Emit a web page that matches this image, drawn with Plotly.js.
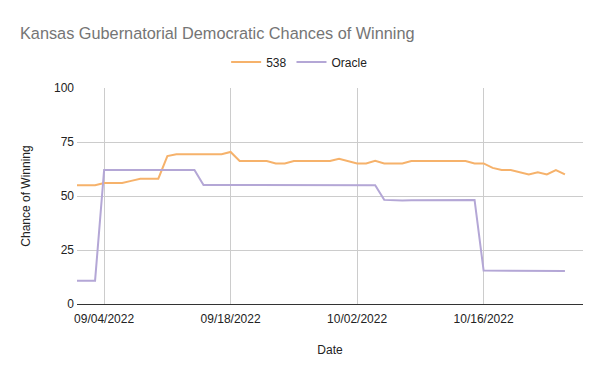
<!DOCTYPE html>
<html>
<head>
<meta charset="utf-8">
<script src="https://cdn.plot.ly/plotly-3.0.1.min.js"></script>
<style>html,body{margin:0;padding:0;background:#fff;}#chart{width:601px;height:375px;}</style>
</head>
<body>
<div id="chart"></div>
<script>
const dates = [
 '2022-09-01','2022-09-02','2022-09-03','2022-09-04','2022-09-05','2022-09-06','2022-09-07','2022-09-08','2022-09-09','2022-09-10',
 '2022-09-11','2022-09-12','2022-09-13','2022-09-14','2022-09-15','2022-09-16','2022-09-17','2022-09-18','2022-09-19','2022-09-20',
 '2022-09-21','2022-09-22','2022-09-23','2022-09-24','2022-09-25','2022-09-26','2022-09-27','2022-09-28','2022-09-29','2022-09-30',
 '2022-10-01','2022-10-02','2022-10-03','2022-10-04','2022-10-05','2022-10-06','2022-10-07','2022-10-08','2022-10-09','2022-10-10',
 '2022-10-11','2022-10-12','2022-10-13','2022-10-14','2022-10-15','2022-10-16','2022-10-17','2022-10-18','2022-10-19','2022-10-20',
 '2022-10-21','2022-10-22','2022-10-23','2022-10-24','2022-10-25'
];
const fte538 = [
 55,55,55,56,56,56,57,58,58,58,
 68.5,69.3,69.3,69.3,69.3,69.3,69.3,70.4,66.2,66.2,
 66.2,66.2,65.1,65.1,66.2,66.2,66.2,66.2,66.2,67.2,
 66.2,65.1,65.1,66.3,65.1,65.1,65.1,66.2,66.2,66.2,
 66.2,66.2,66.2,66.2,65.1,65.1,63,62,62,60.9,
 60,61,60,62,60
];
const oracle = [
 10.8,10.8,10.8,62,62,62,62,62,62,62,
 62,62,62,62,55.1,55.1,55,55,55,55,
 55,55,55,55,55,55,55,55,55.1,55.2,
 55.1,55,55,55,48.2,48,47.9,48,48,48,
 48,48,48.1,48.2,48.2,15.5,15.5,15.4,15.4,15.4,
 15.4,15.4,15.4,15.3,15.3
];
const tickDates = ['2022-09-04','2022-09-18','2022-10-02','2022-10-16'];
const tickLabels = ['09/04/2022','09/18/2022','10/02/2022','10/16/2022'];
const yTicks = [0,25,50,75,100];

const font = 'Arial, "Liberation Sans", sans-serif';
const traces = [
 {x: dates, y: fte538, name: '538', type: 'scatter', mode: 'lines', line: {color: '#f6b26b', width: 2}},
 {x: dates, y: oracle, name: 'Oracle', type: 'scatter', mode: 'lines', line: {color: '#b4a7d6', width: 2}}
];
const layout = {
 width: 601, height: 375,
 margin: {l: 77, r: 18, t: 88, b: 71, autoexpand: false},
 paper_bgcolor: '#fff', plot_bgcolor: '#fff',
 font: {family: font, size: 12, color: '#222'},
 title: {text: 'Kansas Gubernatorial Democratic Chances of Winning', font: {family: font, size: 16.3, color: '#757575'}, x: 20/601, xanchor: 'left', xref: 'container', y: 1 - 33/375, yanchor: 'middle', yref: 'container'},
 showlegend: true,
 legend: {orientation: 'h', x: 0.44, xanchor: 'center', y: 1.12, yanchor: 'middle', font: {family: font, size: 12, color: '#222'}, itemwidth: 30, traceorder: 'normal'},
 xaxis: {
  type: 'date', range: ['2022-09-01', '2022-10-27'], automargin: false,
  tickmode: 'array', tickvals: tickDates, ticktext: tickLabels, tickangle: 0,
  showgrid: true, gridcolor: '#cccccc', gridwidth: 1,
  zeroline: false, showline: false, ticks: '', ticklabelstandoff: 6,
  tickfont: {family: font, size: 12, color: '#222'},
  title: {text: 'Date', font: {family: font, size: 12, color: '#222'}, standoff: 20}
 },
 yaxis: {
  range: [0, 100], tickmode: 'array', tickvals: yTicks, automargin: false,
  showgrid: true, gridcolor: '#cccccc', gridwidth: 1,
  zeroline: true, zerolinecolor: '#333', zerolinewidth: 1,
  showline: false, ticks: '', ticklabelstandoff: 2,
  tickfont: {family: font, size: 12, color: '#222'},
  title: {text: 'Chance of Winning', font: {family: font, size: 12, color: '#222'}, standoff: 20}
 }
};
Plotly.newPlot('chart', traces, layout, {displayModeBar: false, staticPlot: true});
</script>
</body>
</html>
